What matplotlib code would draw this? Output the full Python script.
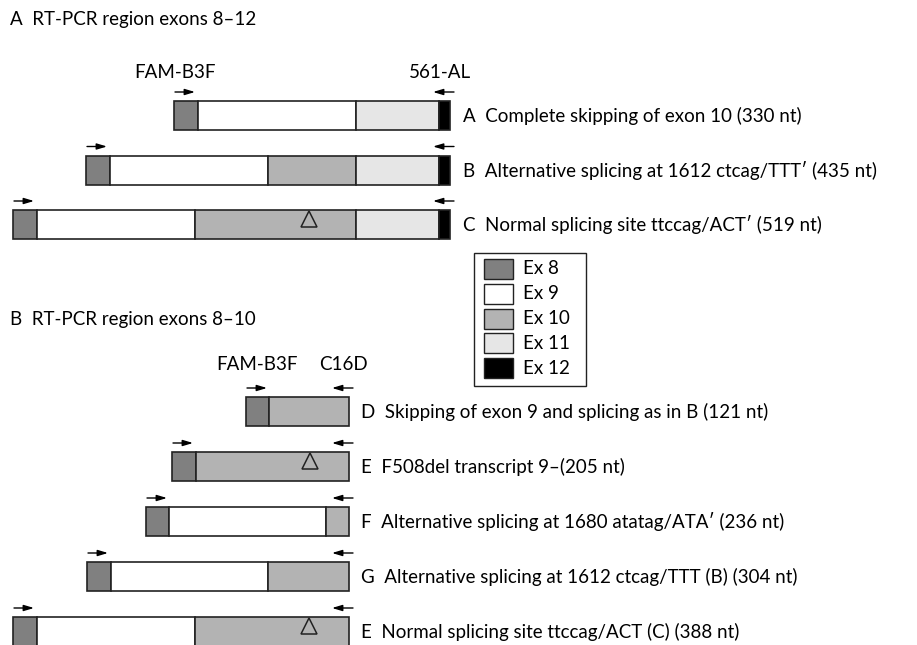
import matplotlib
matplotlib.use("Agg")
import matplotlib.pyplot as plt
import matplotlib.patches as patches

plt.rcParams['font.family'] = ['Lato', 'DejaVu Sans']

# exon colours
exon_names = ["Ex 8", "Ex 9", "Ex 10", "Ex 11", "Ex 12"]
exon_colors = {8: "#808080", 9: "#ffffff", 10: "#b3b3b3", 11: "#e6e6e6", 12: "#000000"}

# transcripts: list of (exon, length) segments, right aligned
panel_a_segments = [
    [(8, 24), (9, 158), (11, 83), (12, 11)],
    [(8, 24), (9, 158), (10, 88), (11, 83), (12, 11)],
    [(8, 24), (9, 158), (10, 161), (11, 83), (12, 11)],
]
panel_a_labels = [
    "A  Complete skipping of exon 10 (330 nt)",
    "B  Alternative splicing at 1612 ctcag/TTT\u2032 (435 nt)",
    "C  Normal splicing site ttccag/ACT\u2032 (519 nt)",
]
panel_a_delta = [False, False, True]

panel_b_segments = [
    [(8, 23), (10, 80)],
    [(8, 24), (10, 153)],
    [(8, 23), (9, 157), (10, 23)],
    [(8, 24), (9, 157), (10, 81)],
    [(8, 24), (9, 158), (10, 154)],
]
panel_b_labels = [
    "D  Skipping of exon 9 and splicing as in B (121 nt)",
    "E  F508del transcript 9\u2013(205 nt)",
    "F  Alternative splicing at 1680 atatag/ATA\u2032 (236 nt)",
    "G  Alternative splicing at 1612 ctcag/TTT (B) (304 nt)",
    "E  Normal splicing site ttccag/ACT (C) (388 nt)",
]
panel_b_delta = [False, True, False, False, True]
delta_offset = 114  # position of F508del inside exon 10

W, H = 917, 645
fig = plt.figure(figsize=(W / 100, H / 100), dpi=100)
ax = fig.add_axes([0, 0, 1, 1])
ax.set_xlim(0, W)
ax.set_ylim(H, 0)
ax.axis("off")

FS = 13.5
BAR_H = 29


def draw_transcript(segs, right, ytop, label, label_x, delta):
    total = sum(l for _, l in segs)
    x = right - total
    start = x
    for ex, l in segs:
        ax.add_patch(patches.Rectangle((x, ytop), l, BAR_H, facecolor=exon_colors[ex],
                                       edgecolor="#222222", lw=1.2, zorder=2))
        if ex == 10 and delta:
            ax.plot(x + delta_offset, ytop + 9, marker="^", ms=11, mfc="none",
                    mec="#222222", mew=1.1, zorder=3)
        x += l
    ya = ytop - 9
    ax.annotate("", xy=(start + 21, ya), xytext=(start + 1, ya),
                arrowprops=dict(arrowstyle="-|>,head_length=0.6,head_width=0.18",
                                color="black", lw=1, shrinkA=0, shrinkB=0))
    ax.annotate("", xy=(right - 17, ya), xytext=(right + 4, ya),
                arrowprops=dict(arrowstyle="-|>,head_length=0.6,head_width=0.18",
                                color="black", lw=1, shrinkA=0, shrinkB=0))
    ax.text(label_x, ytop + BAR_H / 2, label, fontsize=FS, va="center", ha="left")


# panel A
ax.text(10, 20, "A  RT-PCR region exons 8\u201312", fontsize=FS, va="center")
ax.text(175, 72, "FAM-B3F", fontsize=FS, va="center", ha="center")
ax.text(440, 72, "561-AL", fontsize=FS, va="center", ha="center")
for i, segs in enumerate(panel_a_segments):
    draw_transcript(segs, 450, 101 + 54.5 * i, panel_a_labels[i], 463, panel_a_delta[i])

# panel B
ax.text(10, 320, "B  RT-PCR region exons 8\u201310", fontsize=FS, va="center")
ax.text(257, 365, "FAM-B3F", fontsize=FS, va="center", ha="center")
ax.text(343, 365, "C16D", fontsize=FS, va="center", ha="center")
for i, segs in enumerate(panel_b_segments):
    draw_transcript(segs, 349, 397 + 55 * i, panel_b_labels[i], 361, panel_b_delta[i])

# legend box
ax.add_patch(patches.Rectangle((474, 253), 112, 133, facecolor="white",
                               edgecolor="#222222", lw=1, zorder=1))
for i, (name, ex) in enumerate(zip(exon_names, [8, 9, 10, 11, 12])):
    yc = 269 + 24.8 * i
    ax.add_patch(patches.Rectangle((484, yc - 10), 29, 20, facecolor=exon_colors[ex],
                                   edgecolor="#222222", lw=1, zorder=2))
    ax.text(523, yc, name, fontsize=FS, va="center", ha="left")

fig.savefig("out.png", dpi=100)
